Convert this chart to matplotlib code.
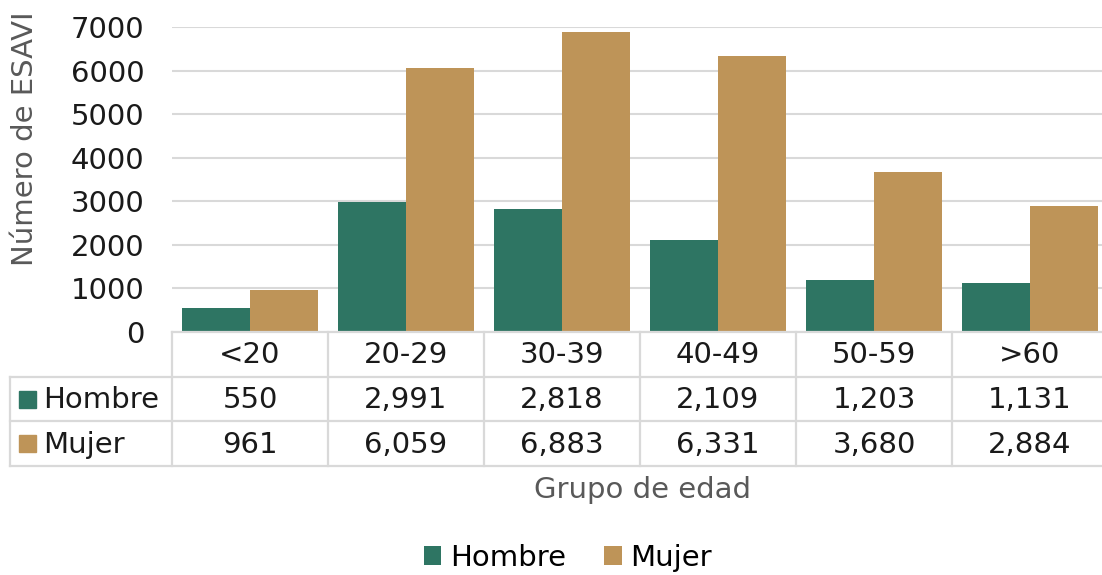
import matplotlib.pyplot as plt
from matplotlib.patches import Rectangle

plt.rcParams["font.family"] = ["DejaVu Sans"]

groups = ["<20", "20-29", "30-39", "40-49", "50-59", ">60"]
series = ["Hombre", "Mujer"]
hombre = [550, 2991, 2818, 2109, 1203, 1131]
mujer = [961, 6059, 6883, 6331, 3680, 2884]
colors = ["#2E7563", "#BE9458"]
yticks = [0, 1000, 2000, 3000, 4000, 5000, 6000, 7000]

W, H = 1102, 575
fig = plt.figure(figsize=(W / 100, H / 100), dpi=100)

# pixel geometry
x0, x1 = 172, 1108
ytop, ybot = 27, 332
cell = (x1 - x0) / len(groups)
row_h = 44.7
lead = 162
fs = 21
dark = "#1a1a1a"
grey = "#595959"

ax = fig.add_axes([x0 / W, 1 - ybot / H, (x1 - x0) / W, (ybot - ytop) / H])
x = list(range(len(groups)))
bw = 0.437
ax.bar([i - bw / 2 for i in x], hombre, bw, color=colors[0], label=series[0])
ax.bar([i + bw / 2 for i in x], mujer, bw, color=colors[1], label=series[1])
ax.set_xlim(-0.5, len(groups) - 0.5)
ax.set_ylim(0, 7000)
ax.set_yticks(yticks)
ax.set_yticklabels([str(v) for v in yticks])
ax.set_xticks([])
ax.tick_params(axis="y", length=0, pad=20, labelsize=fs, labelcolor=dark)
ax.grid(axis="y", color="#D9D9D9", linewidth=1.5)
ax.set_axisbelow(True)
for s in ax.spines.values():
    s.set_visible(False)

fig.text(25 / W, 1 - 139 / H, "Número de ESAVI", rotation=90, ha="center", va="center",
         fontsize=21, color=grey)

# data table below the axes
tleft = x0 - lead
tax = fig.add_axes([tleft / W, 1 - (ybot + 3 * row_h) / H, (x1 - tleft) / W, 3 * row_h / H])
tax.set_xlim(-0.5 - lead / cell, len(groups) - 0.5)
tax.set_ylim(3, 0)
tax.axis("off")
lc = "#D9D9D9"
lw = 1.6
lx = -0.5 - lead / cell
tax.plot([-0.5, len(groups) - 0.5], [0, 0], color=lc, lw=lw, clip_on=False)
for r in (1, 2, 3):
    tax.plot([lx, len(groups) - 0.5], [r, r], color=lc, lw=lw, clip_on=False)
tax.plot([lx, lx], [1, 3], color=lc, lw=lw, clip_on=False)
for i in range(len(groups) + 1):
    tax.plot([i - 0.5, i - 0.5], [0, 3], color=lc, lw=lw, clip_on=False)

for i, g in enumerate(groups):
    tax.text(i, 0.52, g, ha="center", va="center", fontsize=fs, color=dark)
    tax.text(i, 1.52, f"{hombre[i]:,}", ha="center", va="center", fontsize=fs, color=dark)
    tax.text(i, 2.52, f"{mujer[i]:,}", ha="center", va="center", fontsize=fs, color=dark)

sq = 17 / cell
for r, (name, c) in enumerate(zip(series, colors)):
    tax.add_patch(Rectangle((lx + 9 / cell, r + 1.5 - 0.19), sq, 0.38, color=c, clip_on=False))
    tax.text(lx + 33 / cell, r + 1.52, name, ha="left", va="center", fontsize=fs, color=dark)

fig.text(642 / W, 1 - 490 / H, "Grupo de edad", ha="center", va="center",
         fontsize=fs, color=grey)

handles, labels = ax.get_legend_handles_labels()
fig.legend(handles, labels, loc="center", bbox_to_anchor=(568 / W, 1 - 558 / H),
           ncol=2, frameon=False, fontsize=fs, handlelength=0.6, handleheight=0.6,
           handletextpad=0.3, columnspacing=1.3)

fig.savefig("out.png", dpi=100)
